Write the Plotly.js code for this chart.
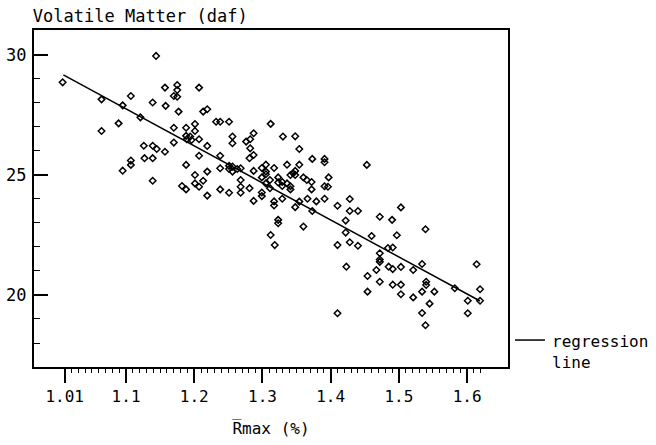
<!DOCTYPE html>
<html>
<head>
<meta charset="utf-8">
<script src="https://cdn.plot.ly/plotly-3.0.1.min.js"></script>
<style>html,body{margin:0;padding:0;background:#fff;}#chart{width:656px;height:445px;}</style>
</head>
<body>
<div id="chart"></div>
<script>
// Mean maximum vitrinite reflectance (Rmax, %)
const rmax = [1.007,1.144,1.064,1.107,1.157,1.175,1.175,1.170,1.175,1.207,1.139,1.158,1.177,1.213,1.219,1.095,1.121,1.064,1.089,1.170,1.188,1.201,1.201,1.188,1.194,1.196,1.189,1.170,1.207,1.219,1.126,1.139,1.145,1.157,1.127,1.139,1.207,1.107,1.107,1.095,1.188,1.219,1.201,1.139,1.201,1.207,1.213,1.182,1.188,1.219,
1.232,1.238,1.251,1.312,1.256,1.256,1.287,1.282,1.276,1.330,1.348,1.282,1.354,1.238,1.281,1.287,1.373,1.391,1.391,1.238,1.251,1.256,1.251,1.263,1.268,1.287,1.299,1.305,1.305,1.317,1.336,1.354,1.341,1.345,1.348,1.348,1.299,1.305,1.256,1.311,1.323,1.329,1.323,1.329,1.336,1.360,1.365,1.372,1.372,1.397,1.391,1.396,1.268,1.268,1.268,1.281,1.299,1.299,1.305,1.311,1.238,1.251,1.341,1.341,1.329,1.317,1.317,1.287,1.348,1.366,1.379,1.391,1.354,
1.453,1.373,1.410,1.428,1.428,1.440,1.503,1.472,1.490,1.422,1.323,1.323,1.360,1.422,1.460,1.497,1.539,1.312,1.318,1.410,1.428,1.440,1.484,1.491,1.472,1.472,1.472,1.485,1.491,1.503,1.521,1.534,1.472,1.491,1.503,1.503,1.521,1.534,1.540,1.540,1.552,1.545,1.534,1.539,1.582,1.601,1.601,1.614,1.619,1.619,1.423,1.454,1.454,1.467,1.410];
// Volatile matter (daf, %)
const volatileMatter = [28.86,29.96,28.15,28.29,28.64,28.75,28.54,28.29,28.26,28.64,28.02,27.88,27.64,27.64,27.74,27.90,27.40,26.83,27.15,26.97,26.97,27.12,26.83,26.63,26.60,26.46,26.49,26.35,26.49,26.21,26.22,26.22,26.08,25.97,25.70,25.70,25.80,25.60,25.42,25.18,25.42,25.14,25.00,24.76,24.65,24.51,24.76,24.54,24.40,24.14,
27.22,27.22,27.22,27.13,26.60,26.32,26.74,26.49,26.39,26.60,26.61,26.11,26.08,25.80,25.70,25.83,25.67,25.67,25.53,25.28,25.38,25.35,25.25,25.25,25.28,25.17,25.29,25.43,25.14,25.29,25.43,25.43,25.00,25.07,25.17,25.00,24.90,25.03,25.14,24.79,24.90,24.71,24.69,24.54,24.65,24.90,24.79,24.71,24.40,24.90,24.53,24.51,24.79,24.51,24.26,24.45,24.27,24.12,24.65,24.45,24.40,24.26,24.53,24.40,24.01,23.90,23.73,23.92,23.66,24.01,23.90,24.01,23.89,
25.42,23.50,23.72,24.00,23.50,23.50,23.65,23.26,23.13,23.10,23.13,22.99,22.85,22.60,22.46,22.49,22.74,22.50,22.08,22.08,22.20,22.05,21.96,21.98,21.74,21.48,21.38,21.18,21.08,21.17,21.04,21.29,20.55,20.43,20.43,20.03,19.90,20.14,20.55,20.42,20.14,19.64,19.25,18.74,20.28,19.76,19.24,21.28,20.24,19.76,21.18,20.79,20.14,21.04,19.24];
// Regression line end points
const regX = [1.008, 1.619];
const regY = [29.17, 19.75];
// Axis ticks
const xTickVals = [1.01, 1.1, 1.2, 1.3, 1.4, 1.5, 1.6];
const xTickText = ["1.01", "1.1", "1.2", "1.3", "1.4", "1.5", "1.6"];
const yTickVals = [20, 25, 30];
const yTickText = ["20", "25", "30"];

const FONT = '"DejaVu Sans Mono", "Liberation Mono", monospace';

const xMinor = [];
for (let i = 101; i <= 162; i++) xMinor.push(i / 100);
const yMinor = [];
for (let v = 18; v <= 30; v++) yMinor.push(v);

const traces = [
  {
    type: 'scatter', mode: 'markers', x: rmax, y: volatileMatter,
    marker: {symbol: 'diamond-open', size: 5, color: '#000', line: {width: 1.5, color: '#000'}},
    showlegend: false, hoverinfo: 'x+y'
  },
  {
    type: 'scatter', mode: 'lines', x: regX, y: regY,
    line: {color: '#000', width: 1.5},
    showlegend: false, hoverinfo: 'skip'
  }
];

const layout = {
  width: 656, height: 445,
  margin: {l: 34, r: 148, t: 30, b: 78},
  paper_bgcolor: '#fff', plot_bgcolor: '#fff',
  font: {family: FONT, size: 16, color: '#000'},
  title: {
    text: 'Volatile Matter (daf)',
    font: {family: FONT, size: 17, color: '#000'},
    xref: 'container', yref: 'container', x: 0.05, xanchor: 'left', y: 0.964, yanchor: 'middle'
  },
  xaxis: {
    range: [0.965, 1.660],
    showgrid: false, zeroline: false,
    showline: true, linecolor: '#000', linewidth: 2, mirror: true,
    tickmode: 'array', tickvals: xTickVals, ticktext: xTickText,
    ticks: 'outside', ticklen: 14, tickwidth: 2, tickcolor: '#000',
    minor: {tickmode: 'array', tickvals: xMinor, ticks: 'outside', ticklen: 4, tickwidth: 1, tickcolor: '#000', showgrid: false},
    tickfont: {family: FONT, size: 16, color: '#000'},
    title: {text: 'R\u0305max (%)', font: {family: FONT, size: 16, color: '#000'}, standoff: 18}
  },
  yaxis: {
    range: [17.0, 31.04],
    showgrid: false, zeroline: false,
    showline: true, linecolor: '#000', linewidth: 2, mirror: true,
    tickmode: 'array', tickvals: yTickVals, ticktext: yTickText,
    ticks: 'inside', ticklen: 14, tickwidth: 2, tickcolor: '#000',
    minor: {tickmode: 'array', tickvals: yMinor, ticks: 'inside', ticklen: 6, tickwidth: 1, tickcolor: '#000', showgrid: false},
    tickfont: {family: FONT, size: 17, color: '#000'},
    ticklabelstandoff: 2
  },
  shapes: [
    {type: 'line', xref: 'paper', yref: 'paper', x0: 1.0148, x1: 1.078, y0: 0.080, y1: 0.080, line: {color: '#000', width: 1.5}}
  ],
  annotations: [
    {xref: 'paper', yref: 'paper', x: 1.0886, y: 0.110, xanchor: 'left', yanchor: 'top', align: 'left',
     text: 'regression<br>line', showarrow: false, font: {family: FONT, size: 16, color: '#000'}}
  ]
};

Plotly.newPlot('chart', traces, layout, {displayModeBar: false, staticPlot: true});
</script>
</body>
</html>
